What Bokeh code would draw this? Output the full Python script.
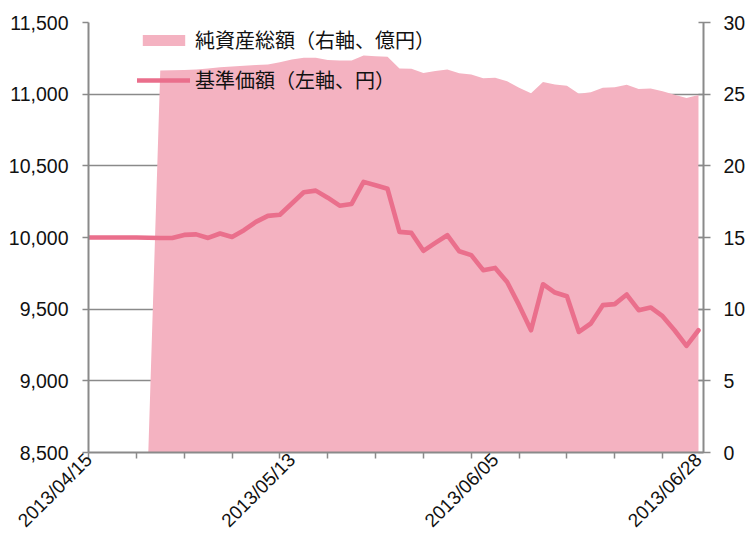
import math
from bokeh.plotting import figure
from bokeh.models import (Range1d, LinearAxis, FixedTicker, NumeralTickFormatter,
                          Legend, LegendItem, ColumnDataSource)
from bokeh.embed import file_html
from bokeh.resources import INLINE

# ---------------- data ----------------
dates = [
    "2013/04/15", "2013/04/16", "2013/04/17", "2013/04/18", "2013/04/19",
    "2013/04/22", "2013/04/23", "2013/04/24", "2013/04/25", "2013/04/26",
    "2013/04/30", "2013/05/01", "2013/05/02", "2013/05/07", "2013/05/08",
    "2013/05/09", "2013/05/10", "2013/05/13", "2013/05/14", "2013/05/15",
    "2013/05/16", "2013/05/17", "2013/05/20", "2013/05/21", "2013/05/22",
    "2013/05/23", "2013/05/24", "2013/05/27", "2013/05/28", "2013/05/29",
    "2013/05/30", "2013/05/31", "2013/06/03", "2013/06/04", "2013/06/05",
    "2013/06/06", "2013/06/07", "2013/06/10", "2013/06/11", "2013/06/12",
    "2013/06/13", "2013/06/14", "2013/06/17", "2013/06/18", "2013/06/19",
    "2013/06/20", "2013/06/21", "2013/06/24", "2013/06/25", "2013/06/26",
    "2013/06/27", "2013/06/28",
]

nav = [
    10000, 10000, 10000, 10000, 10000, 9998, 9997, 9997, 10018, 10022,
    9997, 10028, 10004, 10051, 10109, 10151, 10159, 10237, 10316, 10327,
    10278, 10222, 10234, 10388, 10365, 10340, 10039, 10032, 9907, 9962,
    10016, 9904, 9877, 9772, 9788, 9690, 9528, 9353, 9674, 9616,
    9590, 9341, 9400, 9528, 9535, 9602, 9493, 9512, 9451, 9353,
    9244, 9353,
]

net_assets = [
    0, 0, 0, 0, 0, 0, 26.65, 26.67, 26.69, 26.72,
    26.79, 26.88, 26.93, 26.99, 27.03, 27.07, 27.23, 27.42, 27.54, 27.54,
    27.38, 27.35, 27.35, 27.70, 27.65, 27.61, 26.79, 26.77, 26.48, 26.62,
    26.72, 26.46, 26.37, 26.11, 26.14, 25.90, 25.45, 25.07, 25.85, 25.67,
    25.58, 25.03, 25.14, 25.44, 25.49, 25.66, 25.36, 25.40, 25.21, 24.96,
    24.73, 24.94,
]

label_idx = [0, 17, 34, 51]
tick_idx = list(range(0, 49, 4))
left_ticks = [8500, 9000, 9500, 10000, 10500, 11000, 11500]
right_ticks = [0, 5, 10, 15, 20, 25, 30]

label_area = "純資産総額（右軸、億円）"
label_line = "基準価額（左軸、円）"

# ---------------- styling ----------------
AREA = "#F4B2C1"
LINE = "#EA6F8C"
GRAY = "#8A8A8A"
TXT = "#111111"
FONT = "Liberation Sans"
CJK = "Noto Sans CJK JP"
FS = "19.5px"

idx = list(range(len(dates)))
src = ColumnDataSource(dict(x=idx, nav=nav, na=net_assets, zero=[0] * len(idx)))

p = figure(width=748, height=543, output_backend="svg", toolbar_location=None,
           x_range=Range1d(0, 51.42), y_range=Range1d(8500, 11500),
           min_border_left=88, min_border_right=44, min_border_top=22,
           min_border_bottom=91, x_axis_location=None, y_axis_location=None)
p.extra_y_ranges = {"right": Range1d(0, 30)}
p.outline_line_color = None
p.background_fill_color = "white"
p.border_fill_color = "white"

area_r = p.varea(x="x", y1="zero", y2="na", source=src, y_range_name="right",
                 fill_color=AREA, fill_alpha=1.0)
line_r = p.line(x="x", y="nav", source=src, line_color=LINE, line_width=4.6,
                line_join="round", line_cap="round")

# bottom axis
xaxis = LinearAxis(ticker=FixedTicker(ticks=label_idx, minor_ticks=tick_idx))
xaxis.major_label_overrides = {i: dates[i] for i in label_idx}
xaxis.major_label_orientation = math.pi / 4
xaxis.major_tick_line_color = None
xaxis.major_tick_out = 6
xaxis.major_tick_in = 0
xaxis.minor_tick_line_color = GRAY
xaxis.minor_tick_line_width = 1.5
xaxis.minor_tick_out = 6
xaxis.minor_tick_in = 0
xaxis.axis_line_color = GRAY
xaxis.axis_line_width = 2
xaxis.major_label_standoff = -2
xaxis.major_label_text_font = FONT
xaxis.major_label_text_font_size = "19px"
xaxis.major_label_text_color = TXT
p.add_layout(xaxis, "below")

# left axis
yl = LinearAxis(ticker=FixedTicker(ticks=left_ticks),
                formatter=NumeralTickFormatter(format="0,0"))
yl.axis_line_color = GRAY
yl.axis_line_width = 2
yl.major_tick_line_color = GRAY
yl.major_tick_line_width = 1.5
yl.major_tick_out = 6
yl.major_tick_in = 0
yl.minor_tick_line_color = None
yl.major_label_standoff = 14
yl.major_label_text_font = FONT
yl.major_label_text_font_size = FS
yl.major_label_text_color = TXT
p.add_layout(yl, "left")

# right axis
yr = LinearAxis(y_range_name="right", ticker=FixedTicker(ticks=right_ticks))
yr.axis_line_color = GRAY
yr.axis_line_width = 2
yr.major_tick_line_color = GRAY
yr.major_tick_line_width = 1.5
yr.major_tick_out = 7
yr.major_tick_in = 5
yr.minor_tick_line_color = None
yr.major_label_standoff = 13
yr.major_label_text_font = FONT
yr.major_label_text_font_size = FS
yr.major_label_text_color = TXT
p.add_layout(yr, "right")

# grid
p.ygrid.ticker = FixedTicker(ticks=left_ticks)
p.ygrid.grid_line_color = GRAY
p.ygrid.grid_line_width = 1.5
p.xgrid.grid_line_color = None

legend = Legend(items=[LegendItem(label=label_area, renderers=[area_r]),
                       LegendItem(label=label_line, renderers=[line_r])],
                location=(49, 358))
legend.background_fill_alpha = 0
legend.border_line_color = None
legend.padding = 0
legend.margin = 0
legend.spacing = 11
legend.glyph_width = 53
legend.glyph_height = 14
legend.label_standoff = 5
legend.label_height = 20
legend.label_text_font = CJK
legend.label_text_font_size = "20px"
legend.label_text_color = TXT
p.add_layout(legend)

open("out.html", "w").write(file_html(p, INLINE))
